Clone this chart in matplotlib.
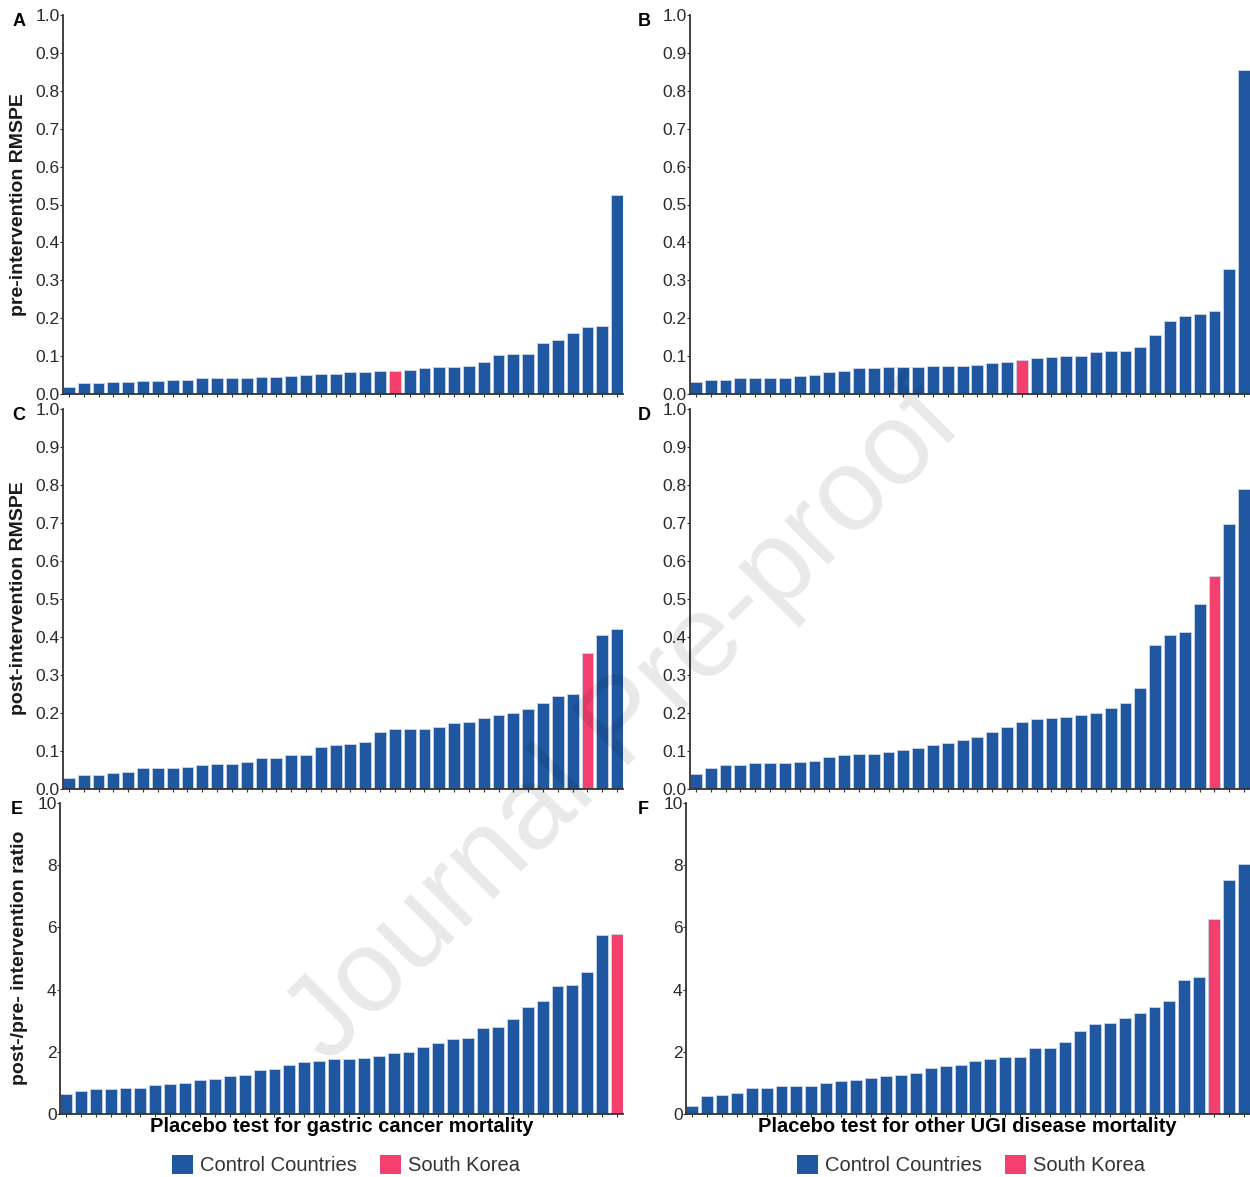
import matplotlib
matplotlib.use("Agg")
import matplotlib.pyplot as plt
from matplotlib.patches import Patch

plt.rcParams['font.family'] = ['Liberation Sans', 'DejaVu Sans']

BLUE = "#1f57a0"
PINK = "#f4406e"

# placebo test results, sorted ascending; one value per country
gastric_pre = [0.018, 0.028, 0.028, 0.032, 0.032, 0.035, 0.035, 0.038, 0.038, 0.041,
               0.041, 0.041, 0.041, 0.045, 0.045, 0.048, 0.051, 0.054, 0.054, 0.058,
               0.058, 0.061, 0.061, 0.064, 0.068, 0.071, 0.071, 0.075, 0.084, 0.103,
               0.106, 0.106, 0.134, 0.143, 0.160, 0.176, 0.179, 0.524]
gastric_pre_korea = 22

ugi_pre = [0.031, 0.038, 0.038, 0.041, 0.041, 0.041, 0.041, 0.047, 0.051, 0.058,
           0.062, 0.068, 0.068, 0.071, 0.071, 0.071, 0.075, 0.075, 0.075, 0.077,
           0.081, 0.084, 0.091, 0.094, 0.098, 0.100, 0.100, 0.111, 0.114, 0.114,
           0.124, 0.156, 0.192, 0.206, 0.212, 0.219, 0.330, 0.854]
ugi_pre_korea = 22

gastric_post = [0.029, 0.037, 0.037, 0.042, 0.046, 0.055, 0.055, 0.055, 0.059, 0.062,
                0.066, 0.066, 0.072, 0.082, 0.082, 0.089, 0.089, 0.111, 0.115, 0.118,
                0.124, 0.151, 0.158, 0.158, 0.158, 0.164, 0.174, 0.177, 0.187, 0.194,
                0.200, 0.210, 0.226, 0.245, 0.249, 0.357, 0.406, 0.422]
gastric_post_korea = 35

ugi_post = [0.039, 0.055, 0.062, 0.062, 0.068, 0.068, 0.068, 0.072, 0.075, 0.085,
            0.089, 0.092, 0.092, 0.098, 0.102, 0.109, 0.115, 0.122, 0.128, 0.138,
            0.151, 0.164, 0.177, 0.184, 0.187, 0.190, 0.194, 0.200, 0.213, 0.226,
            0.266, 0.379, 0.406, 0.413, 0.487, 0.560, 0.697, 0.789]
ugi_post_korea = 35

gastric_ratio = [0.64, 0.73, 0.80, 0.80, 0.84, 0.84, 0.93, 0.96, 1.01, 1.09,
                 1.12, 1.21, 1.25, 1.40, 1.44, 1.56, 1.68, 1.72, 1.76, 1.76,
                 1.81, 1.88, 1.97, 2.00, 2.16, 2.28, 2.41, 2.44, 2.76, 2.79,
                 3.04, 3.43, 3.64, 4.11, 4.15, 4.56, 5.75, 5.79]
gastric_ratio_korea = 37

ugi_ratio = [0.25, 0.57, 0.61, 0.68, 0.84, 0.84, 0.89, 0.89, 0.89, 1.01,
             1.05, 1.09, 1.17, 1.21, 1.25, 1.33, 1.49, 1.53, 1.56, 1.72,
             1.76, 1.84, 1.84, 2.12, 2.12, 2.31, 2.68, 2.88, 2.92, 3.08,
             3.24, 3.43, 3.64, 4.32, 4.40, 6.28, 7.52, 8.03]
ugi_ratio_korea = 35

W, H = 1250, 1177
fig = plt.figure(figsize=(W / 100, H / 100), dpi=100)


def px_axes(x0, y0, x1, y1):
    return fig.add_axes([x0 / W, 1 - y1 / H, (x1 - x0) / W, (y1 - y0) / H])


def bar_panel(ax, vals, korea, ymax, yticks, ylabels):
    n = len(vals)
    xs = list(range(1, n + 1))
    colors = [PINK if i == korea else BLUE for i in range(n)]
    ax.bar(xs, vals, width=0.8, color=colors, edgecolor="#c9d6ea", linewidth=0.6)
    ax.set_xlim(0.6, n + 0.4)
    ax.set_ylim(0, ymax)
    ax.set_xticks(xs)
    ax.set_xticklabels([])
    ax.set_yticks(yticks)
    ax.set_yticklabels(ylabels)
    for s in ("top", "right"):
        ax.spines[s].set_visible(False)
    for s in ("left", "bottom"):
        ax.spines[s].set_color("#333333")
        ax.spines[s].set_linewidth(1.3)
    ax.tick_params(axis="x", length=2.5, width=0.8, color="#333333")
    ax.tick_params(axis="y", length=2, width=0.8, color="#333333", pad=0.5,
                   labelsize=12.5, labelcolor="#2a2a2a")


rmspe_ticks = [i / 10 for i in range(11)]
rmspe_labels = ["%.1f" % t for t in rmspe_ticks]
ratio_ticks = [0, 2, 4, 6, 8, 10]
ratio_labels = [str(t) for t in ratio_ticks]

axA = px_axes(63, 15, 623, 394)
bar_panel(axA, gastric_pre, gastric_pre_korea, 1.0, rmspe_ticks, rmspe_labels)
axB = px_axes(690, 15, 1250, 394)
bar_panel(axB, ugi_pre, ugi_pre_korea, 1.0, rmspe_ticks, rmspe_labels)
axC = px_axes(63, 409, 623, 789)
bar_panel(axC, gastric_post, gastric_post_korea, 1.0, rmspe_ticks, rmspe_labels)
axD = px_axes(690, 409, 1250, 789)
bar_panel(axD, ugi_post, ugi_post_korea, 1.0, rmspe_ticks, rmspe_labels)
axE = px_axes(60, 803, 623, 1114)
bar_panel(axE, gastric_ratio, gastric_ratio_korea, 10, ratio_ticks, ratio_labels)
axF = px_axes(686, 803, 1250, 1114)
bar_panel(axF, ugi_ratio, ugi_ratio_korea, 10, ratio_ticks, ratio_labels)


def fig_text(x, y, s, **kw):
    fig.text(x / W, 1 - y / H, s, **kw)


# panel letters
for letter, x, y in [("A", 19, 22), ("B", 644, 22), ("C", 19, 416),
                     ("D", 644, 416), ("E", 17, 810), ("F", 643, 810)]:
    fig_text(x, y, letter, fontsize=13, fontweight="bold", ha="center", va="center")

# y-axis titles
fig_text(19, 205, "pre-intervention RMSPE", fontsize=14, fontweight="bold",
         rotation=90, ha="center", va="center", color="#1a1a1a")
fig_text(19, 598, "post-intervention RMSPE", fontsize=14, fontweight="bold",
         rotation=90, ha="center", va="center", color="#1a1a1a")
fig_text(20, 958, "post-/pre- intervention ratio", fontsize=14, fontweight="bold",
         rotation=90, ha="center", va="center", color="#1a1a1a")

# x-axis titles
fig_text(342, 1126, "Placebo test for gastric cancer mortality", fontsize=14.5,
         fontweight="bold", ha="center", va="center")
fig_text(967, 1126, "Placebo test for other UGI disease mortality", fontsize=14.5,
         fontweight="bold", ha="center", va="center")

# legends under the bottom row
handles = [Patch(facecolor=BLUE, edgecolor="none", label="Control Countries"),
           Patch(facecolor=PINK, edgecolor="none", label="South Korea")]
for cx in (346, 971):
    fig.legend(handles=handles, loc="center", bbox_to_anchor=(cx / W, 1 - 1165 / H),
               ncol=2, frameon=False, fontsize=14.5, handlelength=1.05,
               handleheight=1.05, handletextpad=0.35, columnspacing=1.1,
               labelcolor="#333333")

# diagonal watermark
fig_text(625, 725, "Journal Pre-proof", fontsize=84, rotation=45, ha="center",
         va="center", color="black", alpha=0.09)

fig.savefig("out.png", dpi=100)
